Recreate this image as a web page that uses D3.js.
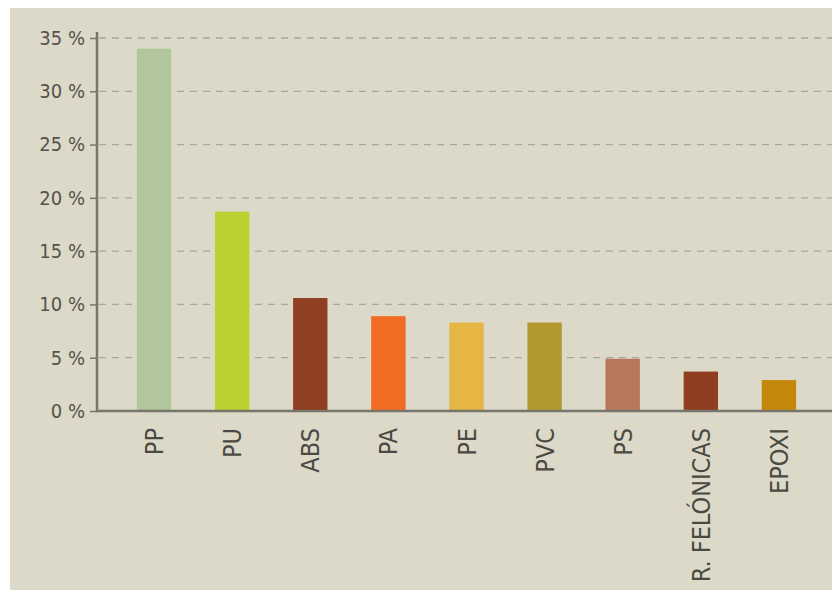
<!DOCTYPE html>
<html>
<head>
<meta charset="utf-8">
<script src="https://cdn.jsdelivr.net/npm/d3@7"></script>
<style>
  body { margin: 0; background: #fff; }
  svg { display: block; }
  text { font-family: "DejaVu Sans Condensed", "Liberation Sans Narrow", sans-serif; font-stretch: condensed; }
</style>
</head>
<body>
<div id="chart"></div>
<script>
// Datos del gráfico
const materiales = ["PP", "PU", "ABS", "PA", "PE", "PVC", "PS", "R. FELÓNICAS", "EPOXI"];
const porcentajes = [34, 18.7, 10.6, 8.9, 8.3, 8.3, 4.9, 3.7, 2.9];
const colores = ["#b1c79b", "#bdd032", "#8f3f22", "#f26b22", "#e5b643", "#b3982f", "#b8765a", "#8f3e21", "#c4880b"];
const ticksY = [0, 5, 10, 15, 20, 25, 30, 35];

const width = 832;
const height = 592;

const svg = d3.select("#chart").append("svg")
    .attr("width", width)
    .attr("height", height);

// fondo beige
svg.append("rect")
    .attr("x", 10)
    .attr("y", 8)
    .attr("width", width - 10)
    .attr("height", height - 10)
    .style("fill", "#dcd9c8");

const x = d3.scaleBand()
    .domain(materiales)
    .range([115, 818])
    .paddingInner(0.56)
    .paddingOuter(0.28);

const y = d3.scaleLinear()
    .domain([0, 35])
    .range([411, 38]);

// líneas de cuadrícula
svg.selectAll(".grid")
    .data(ticksY.filter(d => d > 0))
    .enter()
    .append("line")
    .attr("class", "grid")
    .attr("x1", 99)
    .attr("x2", width)
    .attr("y1", d => y(d))
    .attr("y2", d => y(d))
    .style("stroke", "#a8a79b")
    .style("stroke-width", 1.3)
    .style("stroke-dasharray", "7,6");

// barras
svg.selectAll(".bar")
    .data(materiales)
    .enter()
    .append("rect")
    .attr("class", "bar")
    .attr("x", d => x(d))
    .attr("width", x.bandwidth())
    .attr("y", (d, i) => y(porcentajes[i]))
    .attr("height", (d, i) => y(0) - y(porcentajes[i]))
    .style("fill", (d, i) => colores[i]);

// eje Y
const ejeY = svg.append("g")
    .attr("transform", "translate(97,0)")
    .call(d3.axisLeft(y).tickValues(ticksY).tickSize(7).tickFormat(d => d + " %"));
ejeY.select(".domain").remove();
ejeY.selectAll(".tick line").style("stroke", "#77766c").style("stroke-width", 1.5);
ejeY.selectAll(".tick text")
    .attr("x", -12)
    .style("font-size", "20px")
    .style("fill", "#54534b");

svg.append("line")
    .attr("x1", 97).attr("x2", 97)
    .attr("y1", 32).attr("y2", 412)
    .style("stroke", "#77766c")
    .style("stroke-width", 2.5);

// eje X
svg.append("line")
    .attr("x1", 96).attr("x2", width)
    .attr("y1", 411).attr("y2", 411)
    .style("stroke", "#77766c")
    .style("stroke-width", 2.5);

svg.selectAll(".xlabel")
    .data(materiales)
    .enter()
    .append("text")
    .attr("class", "xlabel")
    .attr("transform", d => `translate(${x(d) + x.bandwidth() / 2},428) rotate(-90)`)
    .attr("text-anchor", "end")
    .attr("dy", "0.36em")
    .text(d => d)
    .style("font-size", "25px")
    .style("fill", "#4a4943");
</script>
</body>
</html>
